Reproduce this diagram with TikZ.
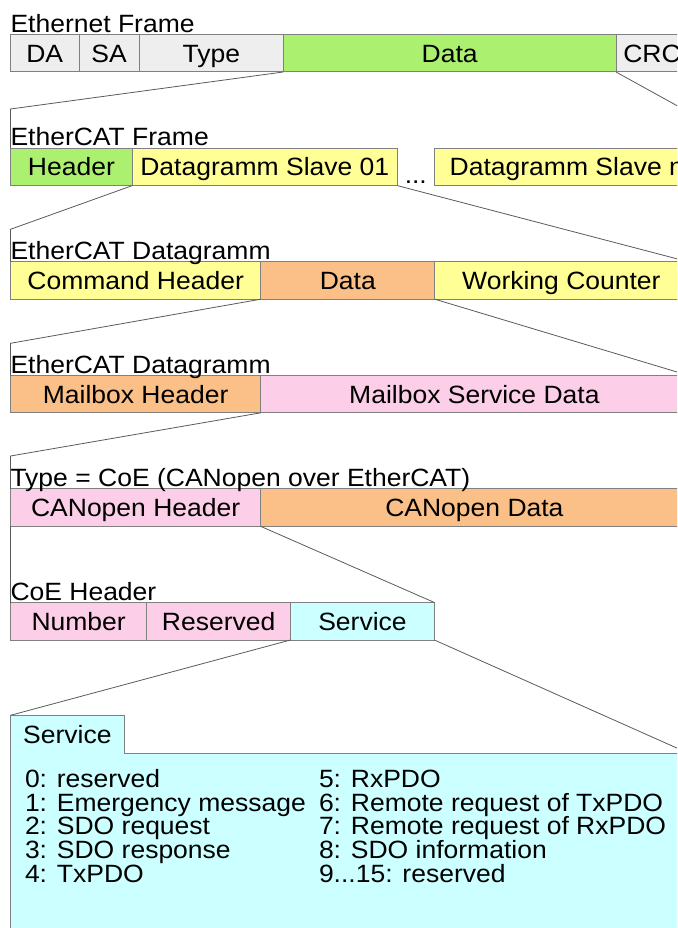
\documentclass[tikz,border=0pt]{standalone}
\usepackage{fontspec}
\setmainfont[FakeStretch=1.06]{Liberation Sans}
\usetikzlibrary{positioning}
\definecolor{fieldgrey}{RGB}{238,238,238}
\definecolor{fieldgreen}{RGB}{172,240,112}
\definecolor{fieldyellow}{RGB}{255,255,150}
\definecolor{fieldorange}{RGB}{250,192,135}
\definecolor{fieldpink}{RGB}{252,206,232}
\definecolor{fieldcyan}{RGB}{204,255,255}
\definecolor{borderline}{RGB}{128,128,128}
\definecolor{zoomgrey}{RGB}{90,90,90}
\begin{document}
\begin{tikzpicture}[x=1pt, y=-1pt,
  every node/.style={font=\fontsize{25}{27}\selectfont, inner sep=0pt, outer sep=0pt},
  field/.style={rectangle, draw=borderline, line width=1pt, anchor=north west,
    minimum height=37.5pt, text height=17.9pt, text depth=0pt},
  title/.style={anchor=base west},
  zoom/.style={draw=zoomgrey, line width=0.8pt}]
  \useasboundingbox (0,0) rectangle (677,928);
  \clip (0,0) rectangle (677,928);

  \node[field, fill=fieldgrey, minimum width=68.5pt] (da) at (10.5,34.5) {DA};
  \node[field, fill=fieldgrey, minimum width=60.3pt, right=0pt of da] (sa) {SA};
  \node[field, fill=fieldgrey, minimum width=144pt, right=0pt of sa] (ethtype) {Type};
  \node[field, fill=fieldgreen, minimum width=332.7pt, right=0pt of ethtype] (ethdata) {Data};
  \node[field, fill=fieldgrey, minimum width=72pt, right=0pt of ethdata] (crc) {CRC};
  \node[title] (ethtitle) at ([yshift=2.3pt]da.north west) {Ethernet Frame};

  \node[field, fill=fieldgreen, minimum width=121.8pt] (echead) at (10.5,148.1) {Header};
  \node[field, fill=fieldyellow, minimum width=265pt, right=0pt of echead] (slaveone) {Datagramm Slave 01};
  \node[field, fill=fieldyellow, minimum width=265pt, right=37pt of slaveone] (slaven) {Datagramm Slave n};
  \node[anchor=base] (dots) at (415.8,183.5) {...};
  \node[title] (ectitle) at ([yshift=2.3pt]echead.north west) {EtherCAT Frame};

  \node[field, fill=fieldyellow, minimum width=250.3pt] (cmdhead) at (10.5,261.7) {Command Header};
  \node[field, fill=fieldorange, minimum width=174pt, right=0pt of cmdhead] (dgdata) {Data};
  \node[field, fill=fieldyellow, minimum width=253.2pt, right=0pt of dgdata] (wkc) {Working Counter};
  \node[title] (dgtitle) at ([yshift=2.3pt]cmdhead.north west) {EtherCAT Datagramm};

  \node[field, fill=fieldorange, minimum width=250.3pt] (mbxhead) at (10.5,375.3) {Mailbox Header};
  \node[field, fill=fieldpink, minimum width=427.2pt, right=0pt of mbxhead] (mbxdata) {Mailbox Service Data};
  \node[title] (mbxtitle) at ([yshift=2.3pt]mbxhead.north west) {EtherCAT Datagramm};

  \node[field, fill=fieldpink, minimum width=250.3pt] (coehead) at (10.5,488.9) {CANopen Header};
  \node[field, fill=fieldorange, minimum width=427.2pt, right=0pt of coehead] (coedata) {CANopen Data};
  \node[title] (coetitle) at ([yshift=2.3pt]coehead.north west) {Type = CoE (CANopen over EtherCAT)};

  \node[field, fill=fieldpink, minimum width=136.3pt] (number) at (10.5,602.5) {Number};
  \node[field, fill=fieldpink, minimum width=143.7pt, right=0pt of number] (reserved) {Reserved};
  \node[field, fill=fieldcyan, minimum width=143.9pt, right=0pt of reserved] (service) {Service};
  \node[title] (hdrtitle) at ([yshift=2.3pt]number.north west) {CoE Header};

  \node[field, draw=none, fill=fieldcyan, minimum width=677.5pt, minimum height=200pt] (svcbody) at (10.5,753) {};
  \node[field, draw=none, fill=fieldcyan, minimum width=113.8pt, minimum height=37.7pt] (svctab) at (10.5,715.3) {Service};
  \draw[draw=borderline, line width=1pt] (svcbody.south west) |- (svctab.north east)
    |- (svcbody.north east) -- (svcbody.south east);
  \foreach \entry [count=\i from 0] in {0: reserved, 1: Emergency message, 2: SDO request,
      3: SDO response, 4: TxPDO}
    \node[title] (svcleft\i) at (25,{787.3+23.7*\i}) {\entry};
  \foreach \entry [count=\i from 0] in {5: RxPDO, 6: Remote request of TxPDO,
      7: Remote request of RxPDO, 8: SDO information, 9{.}{.}{.}15: reserved}
    \node[title] (svcright\i) at (319,{787.3+23.7*\i}) {\entry};

  \coordinate (bendone) at (10.5,109);
  \coordinate (bendoneright) at (683,109);
  \coordinate (bendtwo) at (10.5,229.3);
  \coordinate (bendthree) at (10.5,343.3);
  \coordinate (bendfour) at (10.5,456);
  \draw[zoom] (ethdata.south west) -- (bendone) -- (echead.north west);
  \draw[zoom] (ethdata.south east) -- (bendoneright);
  \draw[zoom] (echead.south east) -- (bendtwo) -- (cmdhead.north west);
  \draw[zoom] (slaveone.south east) -- (wkc.north east);
  \draw[zoom] (cmdhead.south east) -- (bendthree) -- (mbxhead.north west);
  \draw[zoom] (dgdata.south east) -- (mbxdata.north east);
  \draw[zoom] (mbxhead.south east) -- (bendfour) -- (coehead.north west);
  \draw[zoom] (coehead.south west) -- (number.north west);
  \draw[zoom] (coehead.south east) -- (service.north east);
  \draw[zoom] (reserved.south east) -- (svctab.north west);
  \draw[zoom] (service.south east) -- (svcbody.north east);
\end{tikzpicture}
\end{document}
